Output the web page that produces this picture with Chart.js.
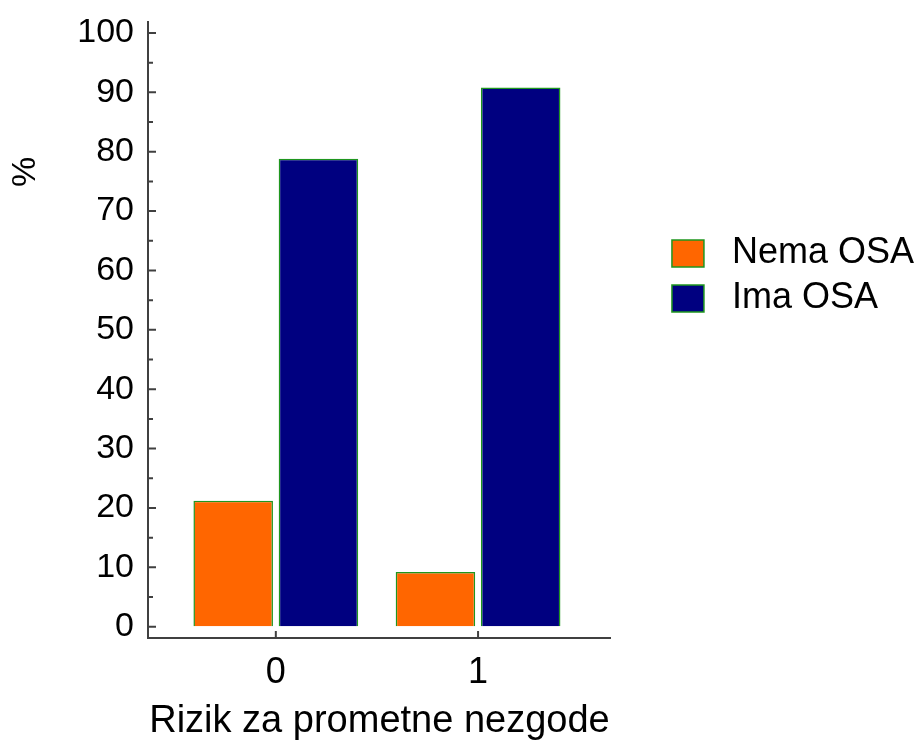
<!DOCTYPE html>
<html>
<head>
<meta charset="utf-8">
<script src="https://cdn.jsdelivr.net/npm/chart.js@4"></script>
<style>
  body { margin: 0; background: #fff; }
  #wrap { width: 924px; height: 744px; position: relative; }
</style>
</head>
<body>
<div id="wrap"><canvas id="grafica"></canvas></div>
<script>
const categories = ['0', '1'];
const nemaOsa = [21.2, 9.2];
const imaOsa = [78.8, 90.8];
const yTicks = [0, 10, 20, 30, 40, 50, 60, 70, 80, 90, 100];
const yMinorTicks = [5, 15, 25, 35, 45, 55, 65, 75, 85, 95];

const axisColor = '#404040';
const fontFamily = '"Liberation Sans", Arial, sans-serif';

// ticks pointing inward + the "%" label
const extras = {
  id: 'extras',
  afterDraw(chart) {
    const ctx = chart.ctx;
    const y = chart.scales.y;
    const x = chart.scales.x;
    const area = chart.chartArea;
    ctx.save();
    ctx.strokeStyle = axisColor;
    ctx.lineWidth = 2;
    ctx.beginPath();
    yTicks.forEach(v => {
      const py = y.getPixelForValue(v);
      ctx.moveTo(area.left, py);
      ctx.lineTo(area.left + 8, py);
    });
    yMinorTicks.forEach(v => {
      const py = y.getPixelForValue(v);
      ctx.moveTo(area.left, py);
      ctx.lineTo(area.left + 5, py);
    });
    categories.forEach((c, i) => {
      const px = x.getPixelForValue(i);
      ctx.moveTo(px, area.bottom);
      ctx.lineTo(px, area.bottom - 7);
    });
    ctx.stroke();

    ctx.translate(26, 172);
    ctx.rotate(-Math.PI / 2);
    ctx.fillStyle = '#000';
    ctx.font = '34px ' + fontFamily;
    ctx.textAlign = 'center';
    ctx.textBaseline = 'middle';
    ctx.fillText('%', 0, 0);
    ctx.restore();
  }
};

const ctx = document.getElementById('grafica').getContext('2d');

new Chart(ctx, {
  type: 'bar',
  data: {
    datasets: [
      {
        label: 'Nema OSA',
        data: nemaOsa.map((v, i) => ({ x: i, y: v })),
        backgroundColor: '#FF6600',
        borderColor: '#1f961f',
        borderWidth: 1.5
      },
      {
        label: 'Ima OSA',
        data: imaOsa.map((v, i) => ({ x: i, y: v })),
        backgroundColor: '#000080',
        borderColor: '#1f961f',
        borderWidth: 1.5
      }
    ]
  },
  options: {
    responsive: true,
    maintainAspectRatio: false,
    animation: false,
    categoryPercentage: 0.843,
    barPercentage: 0.933,
    layout: { padding: { top: 22, left: 0, right: 0, bottom: 0 } },
    plugins: {
      tooltip: { enabled: false },
      legend: {
        position: 'right',
        align: 'start',
        maxWidth: 400,
        title: {
          display: true,
          text: '',
          font: { size: 12 },
          padding: { top: 190, bottom: 0 }
        },
        labels: {
          boxWidth: 32,
          boxHeight: 27,
          padding: 9,
          color: '#000',
          font: { family: fontFamily, size: 36 },
          generateLabels(chart) {
            const items = Chart.defaults.plugins.legend.labels.generateLabels(chart);
            items.forEach(it => { it.text = ' ' + it.text; it.lineWidth = 1.5; });
            return items;
          }
        }
      }
    },
    scales: {
      x: {
        type: 'linear',
        offset: false,
        min: -0.632,
        max: 1.657,
        afterBuildTicks(scale) {
          scale.ticks = categories.map((c, i) => ({ value: i }));
        },
        afterFit(scale) {
          scale.height = 106;
          scale.paddingLeft = 0;
          scale.paddingRight = 0;
        },
        grid: { display: true, offset: false, drawOnChartArea: false, drawTicks: false },
        border: { display: true, color: axisColor, width: 2 },
        ticks: {
          padding: 13,
          color: '#000',
          font: { family: fontFamily, size: 36 },
          callback: v => categories[v]
        },
        title: {
          display: true,
          text: 'Rizik za prometne nezgode',
          color: '#000',
          font: { family: fontFamily, size: 38 },
          padding: { top: 0, bottom: 0 }
        }
      },
      y: {
        min: -1.9,
        max: 101.85,
        afterBuildTicks(scale) {
          scale.ticks = yTicks.map(v => ({ value: v }));
        },
        afterFit(scale) {
          scale.width = 148;
          scale.paddingTop = 0;
          scale.paddingBottom = 0;
        },
        grid: { display: true, drawOnChartArea: false, drawTicks: false },
        border: { display: true, color: axisColor, width: 2 },
        ticks: {
          padding: 14,
          color: '#000',
          font: { family: fontFamily, size: 34 }
        }
      },
      gap: {
        type: 'linear',
        position: 'right',
        display: true,
        afterFit(scale) {
          scale.width = 52;
          scale.paddingTop = 0;
          scale.paddingBottom = 0;
        },
        grid: { display: false, drawTicks: false },
        border: { display: false },
        ticks: { display: false }
      }
    }
  },
  plugins: [extras]
});
</script>
</body>
</html>
